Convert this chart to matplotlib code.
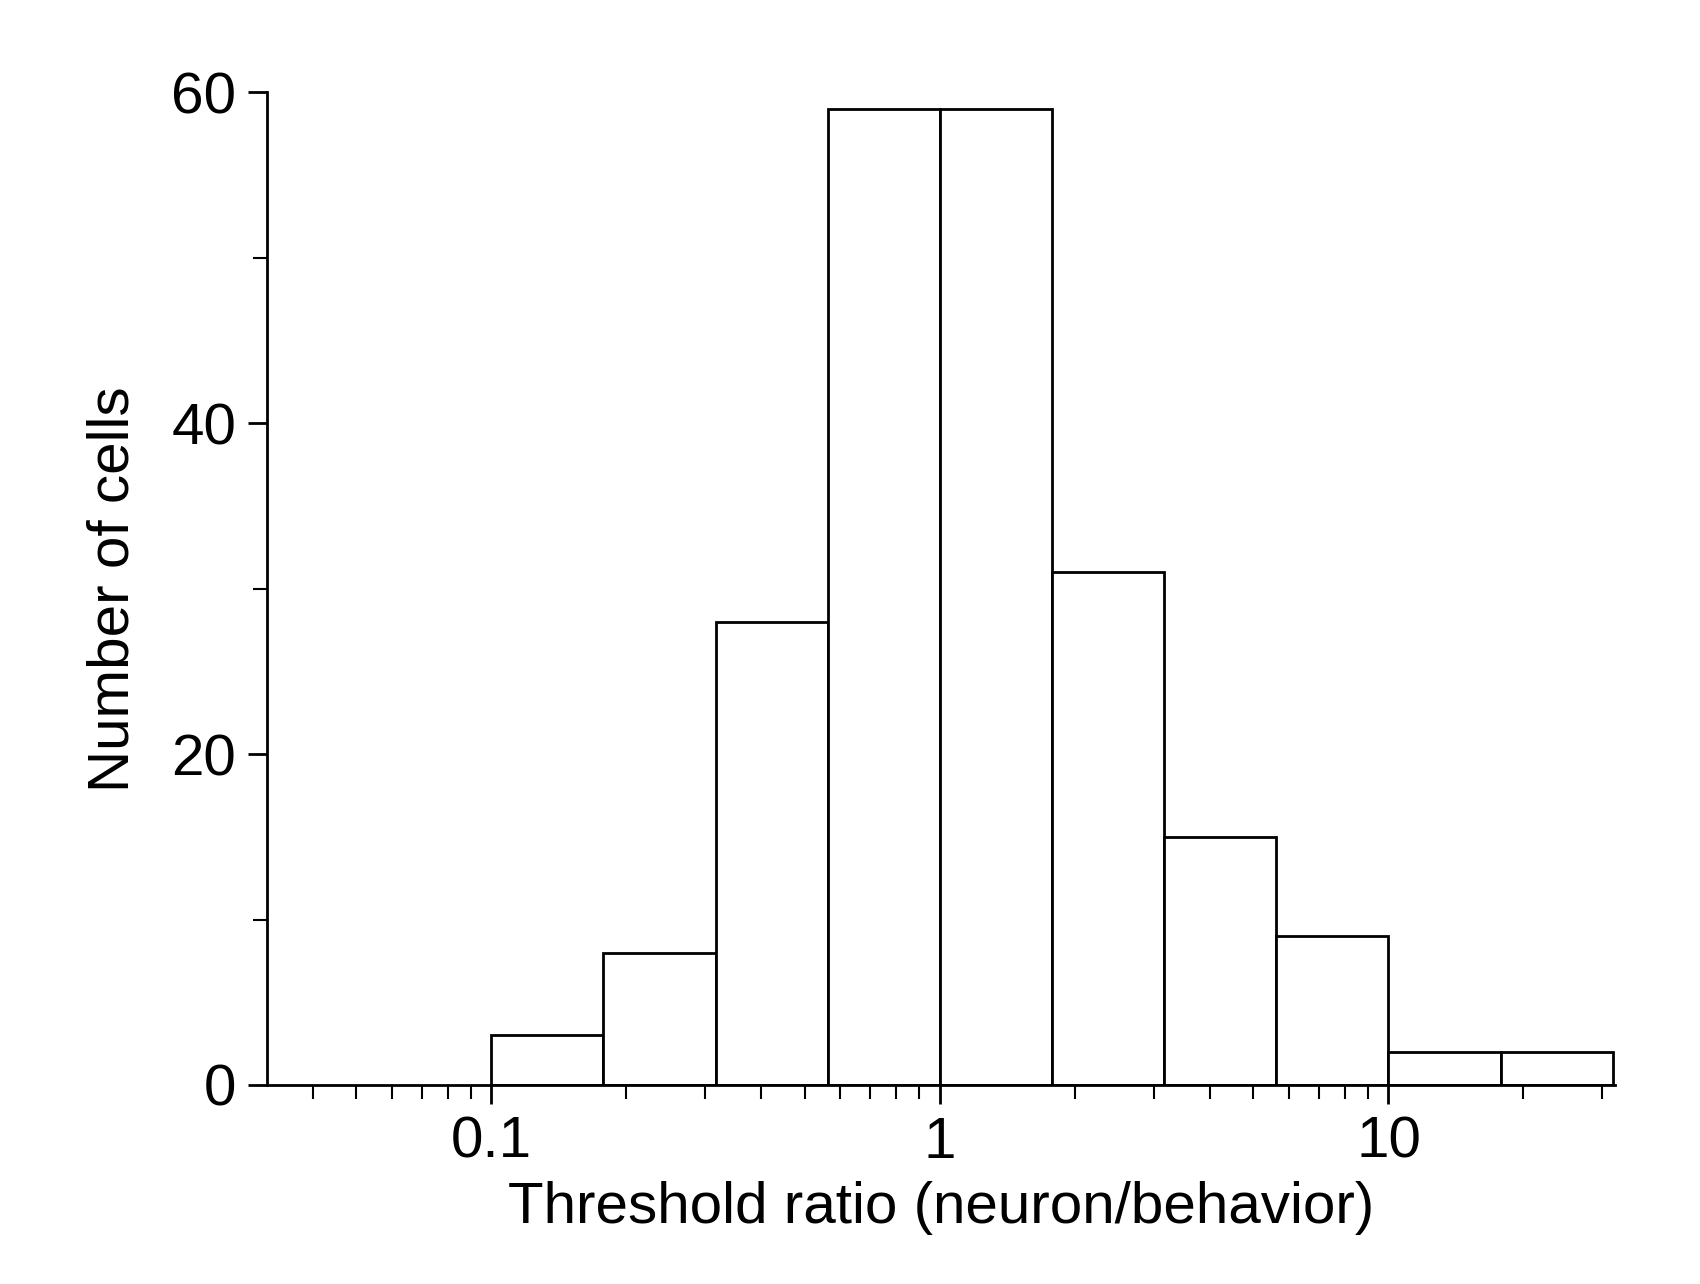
import numpy as np
import matplotlib
matplotlib.use("Agg")
import matplotlib.pyplot as plt
from matplotlib.ticker import LogLocator, NullFormatter, FixedLocator

# bin edges in quarter-decades from 0.1 to ~31.6
bin_exponents = [-1.0, -0.75, -0.5, -0.25, 0.0, 0.25, 0.5, 0.75, 1.0, 1.25, 1.5]
counts = [3, 8, 28, 59, 59, 31, 15, 9, 2, 2]

plt.rcParams['font.family'] = ['Liberation Sans', 'DejaVu Sans']

edges = 10 ** np.array(bin_exponents)
fig = plt.figure(figsize=(17, 12.84), dpi=100)
ax = fig.add_axes([0.157, 0.155, 0.793, 0.773])

ax.bar(edges[:-1], counts, width=np.diff(edges), align='edge',
       facecolor='white', edgecolor='black', linewidth=2)

ax.set_xscale('log')
ax.set_xlim(10 ** -1.5, 10 ** 1.505)
ax.set_ylim(0, 60)
ax.xaxis.set_major_locator(FixedLocator([0.1, 1, 10]))
ax.set_xticklabels(['0.1', '1', '10'])
ax.xaxis.set_minor_locator(LogLocator(base=10, subs=np.arange(2, 10)))
ax.xaxis.set_minor_formatter(NullFormatter())
ax.set_yticks([0, 20, 40, 60])
ax.set_yticks([10, 30, 50], minor=True)

for s in ['top', 'right']:
    ax.spines[s].set_visible(False)
for s in ['left', 'bottom']:
    ax.spines[s].set_linewidth(2)

ax.tick_params(which='major', length=14, width=2, labelsize=42, pad=8)
ax.tick_params(which='minor', length=10, width=1.5)

ax.set_xlabel('Threshold ratio (neuron/behavior)', fontsize=42, labelpad=8)
ax.set_ylabel('Number of cells', fontsize=42, labelpad=22)

fig.savefig('out.png', dpi=100)
